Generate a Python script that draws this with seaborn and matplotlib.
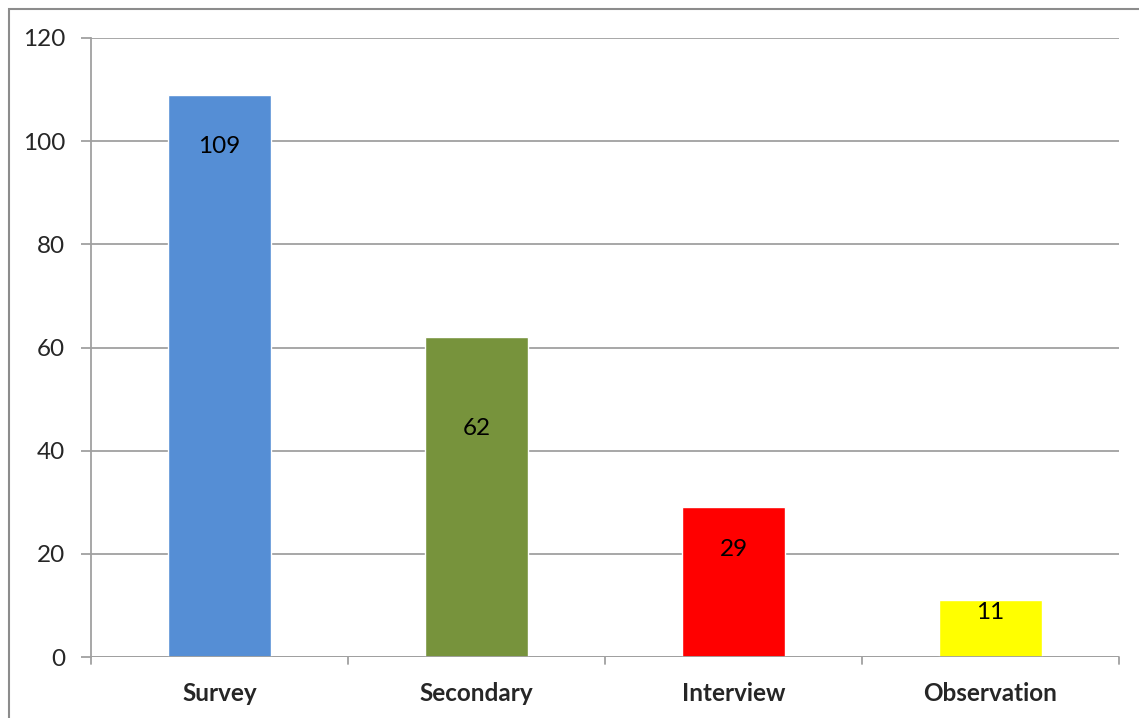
import matplotlib
matplotlib.use("Agg")
import matplotlib.pyplot as plt
import matplotlib.patches as mpatches
import seaborn as sns
import pandas as pd

categories = ["Survey", "Secondary", "Interview", "Observation"]
values = [109, 62, 29, 11]
colors = ["#558ED5", "#77933C", "#FF0000", "#FFFF00"]
# vertical offset (points) of each value label below the bar top
label_drop = [-37, -66, -30, -9]

sns.set_theme(style="white")
plt.rcParams["font.family"] = ["Lato", "DejaVu Sans"]

df = pd.DataFrame({"method": categories, "count": values})

fig = plt.figure(figsize=(11.39, 7.18), dpi=100)
ax = fig.add_axes([91 / 1139, 1 - 657 / 718, (1119 - 91) / 1139, (657 - 38) / 718])

sns.barplot(data=df, x="method", y="count", hue="method", palette=colors,
            width=0.4, legend=False, ax=ax, saturation=1)

ax.set_ylim(0, 120)
ax.set_xlim(-0.5, len(categories) - 0.5)
ax.set_yticks(range(0, 121, 20))
ax.yaxis.grid(True, color="#A0A0A0", linewidth=1.3)
ax.set_axisbelow(True)
ax.set_xlabel("")
ax.set_ylabel("")

for side in ["top", "right", "bottom"]:
    ax.spines[side].set_visible(False)
ax.spines["left"].set_color("#A0A0A0")
ax.spines["left"].set_linewidth(1.3)
ax.axhline(0, color="#A0A0A0", linewidth=1.3, zorder=3)

ax.tick_params(axis="y", length=7, width=1.3, color="#A0A0A0", labelsize=17.5, pad=11.5,
               left=True)
ax.tick_params(axis="x", length=0, labelsize=17.5, pad=18)
for lbl in ax.get_xticklabels():
    lbl.set_fontweight("bold")

# category boundary tick marks below the baseline
for b in [i - 0.5 for i in range(len(categories) + 1)]:
    ax.plot([b, b], [0, -1.4], color="#A0A0A0", linewidth=1.3, clip_on=False)

for i, (v, d) in enumerate(zip(values, label_drop)):
    ax.annotate(str(v), (i, v), xytext=(0, d), textcoords="offset points",
                ha="center", va="center", fontsize=17.5, color="black")

# outer chart frame
fig.patches.append(mpatches.Rectangle((9 / 1139, -0.1), 1.2, 1 - 9 / 718 + 0.1,
                                      transform=fig.transFigure, fill=False,
                                      edgecolor="#8C8C8C", linewidth=1.5))

fig.savefig("out.png", dpi=100)
